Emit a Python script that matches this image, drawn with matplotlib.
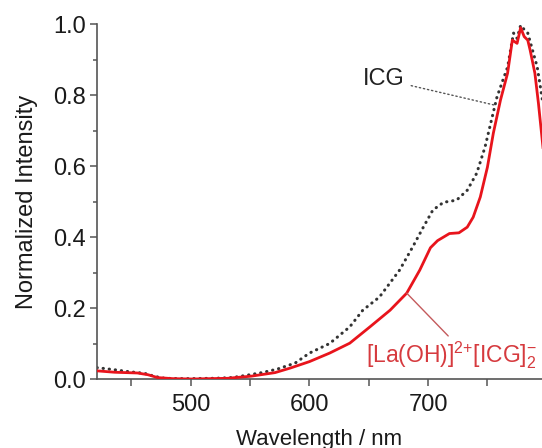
import matplotlib

matplotlib.use("Agg")
import matplotlib.pyplot as plt

# values (wavelength in nm, normalized intensity)
wl_icg = [421, 426, 436, 447, 461, 470, 478, 490, 500, 520, 535, 548, 560, 573, 588,
          600, 617, 634, 645, 659, 676, 687, 696, 704, 713, 724, 733, 741, 748, 754,
          758, 763, 767, 772, 775, 778, 781, 784, 788, 792, 796, 800]
int_icg = [0.032, 0.030, 0.026, 0.021, 0.016, 0.007, 0.002, 0.001, 0.001, 0.002, 0.004, 0.011, 0.018, 0.028, 0.045,
           0.073, 0.100, 0.147, 0.194, 0.231, 0.307, 0.372, 0.428, 0.476, 0.498, 0.504, 0.532, 0.580, 0.654, 0.738,
           0.794, 0.842, 0.879, 0.975, 0.960, 0.997, 0.985, 0.975, 0.927, 0.879, 0.794, 0.70]

wl_la = [421, 436, 455, 464, 472, 485, 501, 531, 551, 571, 584, 600, 617, 634, 651,
         668, 682, 693, 702, 708, 718, 726, 733, 738, 744, 750, 755, 761, 767, 771,
         775, 778, 781, 784, 786, 790, 793, 796, 800]
int_la = [0.023, 0.019, 0.017, 0.012, 0.004, 0.001, 0.0, 0.002, 0.008, 0.018, 0.031, 0.049, 0.073, 0.101, 0.147,
          0.194, 0.242, 0.307, 0.370, 0.390, 0.410, 0.412, 0.428, 0.456, 0.513, 0.597, 0.693, 0.786, 0.862, 0.955,
          0.946, 0.990, 0.965, 0.955, 0.927, 0.862, 0.777, 0.680, 0.55]

x_ticks = [500, 600, 700]
y_ticks = [0.0, 0.2, 0.4, 0.6, 0.8, 1.0]

plt.rcParams["font.family"] = ["Liberation Sans", "DejaVu Sans"]
plt.rcParams["font.size"] = 16

fig = plt.figure(figsize=(5.42, 4.48), dpi=100)
ax = fig.add_axes([0.179, 0.154, 0.821, 0.792])

ax.plot(wl_icg, int_icg, color="#333333", lw=2.2, ls=(0, (0.1, 1.9)),
        dash_capstyle="round", zorder=2)
ax.plot(wl_la, int_la, color="#e8141c", lw=2.0, zorder=3)

ax.set_xlim(421, 796)
ax.set_ylim(0, 1.0)
ax.set_xticks(x_ticks)
ax.set_xticks([450, 550, 650, 750], minor=True)
ax.set_yticks(y_ticks)
ax.set_yticks([0.1, 0.3, 0.5, 0.7, 0.9], minor=True)
ax.set_yticklabels([f"{v:.1f}" for v in y_ticks])

for side in ("top", "right"):
    ax.spines[side].set_visible(False)
for side in ("left", "bottom"):
    ax.spines[side].set_color("#555555")
    ax.spines[side].set_linewidth(1.2)
ax.tick_params(which="both", direction="out", color="#555555", width=1.1,
               labelsize=17, pad=3, labelcolor="#1a1a1a")
ax.tick_params(axis="x", which="both", length=5, pad=6)
ax.tick_params(axis="y", which="major", length=5)
ax.tick_params(axis="y", which="minor", length=3)

ax.set_xlabel("Wavelength / nm", fontsize=16, labelpad=9, color="#1a1a1a")
ax.set_ylabel("Normalized Intensity", fontsize=17, labelpad=11, color="#1a1a1a")

ax.annotate("ICG", xy=(756, 0.772), xytext=(680, 0.845), ha="right", va="center",
            fontsize=17, color="#222222",
            arrowprops=dict(arrowstyle="-", color="#555555", lw=1.0, ls=(0, (1, 2)),
                            shrinkA=3, shrinkB=0))
ax.annotate(r"$\mathregular{[La(OH)]^{2{+}}[ICG]_2^{-}}$", xy=(682, 0.242),
            xytext=(648, 0.066), ha="left", va="center", fontsize=16.5, color="#d63a3e",
            arrowprops=dict(arrowstyle="-", color="#c45a5c", lw=1.0,
                            relpos=(0.5, 1.0), shrinkA=1, shrinkB=0))

fig.savefig("out.png", dpi=100)
